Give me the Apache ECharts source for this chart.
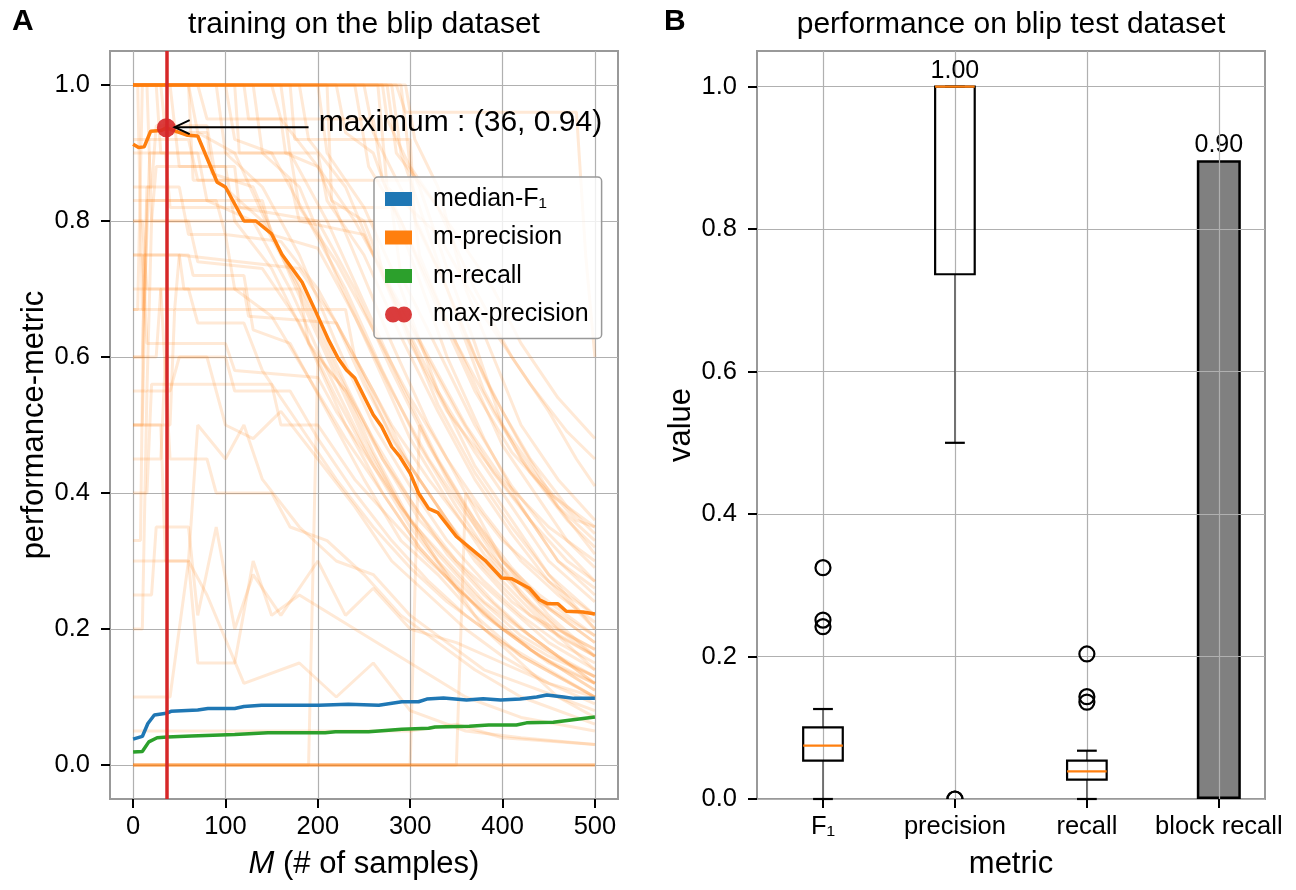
<!DOCTYPE html>
<html>
<head>
<meta charset="utf-8">
<title>blip training / test</title>
<script src="https://cdn.jsdelivr.net/npm/echarts@6/dist/echarts.min.js"></script>
<style>
    html, body { margin: 0; padding: 0; background: #fff; }
    #main { width: 1296px; height: 890px; }
</style>
</head>
<body>
<div id="main"></div>
<script>
// ---------- panel A : training curves ----------
var xTicksA = [0, 100, 200, 300, 400, 500];
var yTicks = [0, 0.2, 0.4, 0.6, 0.8, 1.0];

var medianF1 = [[0,0.038],[10,0.042],[16,0.061],[23,0.0735],[36,0.076],[41,0.079],[70,0.081],[81,0.083],[110,0.083],[120,0.086],[139,0.088],[201,0.088],[233,0.0895],[266,0.088],[291,0.093],[309,0.093],[318,0.097],[336,0.0985],[361,0.0956],[379,0.0975],[398,0.0956],[419,0.097],[437,0.100],[448,0.103],[466,0.100],[477,0.098],[500,0.098]];
var mPrecision = [[0,0.913],[6,0.908],[12,0.909],[19,0.932],[30,0.933],[36,0.937],[59,0.926],[70,0.925],[91,0.857],[100,0.85],[120,0.80],[133,0.80],[150,0.781],[161,0.751],[183,0.71],[198,0.666],[212,0.624],[222,0.598],[231,0.581],[240,0.569],[260,0.515],[269,0.498],[280,0.468],[289,0.453],[300,0.429],[309,0.40],[320,0.377],[330,0.371],[350,0.336],[381,0.301],[399,0.275],[410,0.274],[429,0.26],[440,0.243],[449,0.237],[460,0.237],[469,0.226],[487,0.225],[500,0.222]];
var mRecall = [[0,0.019],[10,0.02],[17,0.034],[26,0.040],[37,0.041],[63,0.0426],[110,0.045],[146,0.0475],[208,0.0475],[219,0.049],[255,0.049],[291,0.0525],[320,0.054],[327,0.056],[364,0.057],[385,0.0588],[415,0.0588],[426,0.062],[455,0.063],[500,0.0706]];

var maxPoint = [36, 0.937];
var maxText = 'maximum : (36, 0.94)';
var arrowTail = [190, 0.938];
var arrowHead = [45, 0.938];
var textAt = [201, 0.944];

// single runs (faint lines)
var runs = [
    [[0,1],[120,1],[125,0.95],[160,0.95],[165,0.9],[200,0.88],[240,0.8],[280,0.7],[320,0.6],[360,0.5],[400,0.42],[450,0.35],[500,0.3]],
    [[0,1],[180,1],[190,0.92],[230,0.85],[270,0.72],[300,0.62],[340,0.52],[380,0.45],[420,0.38],[460,0.3],[500,0.25]],
    [[0,1],[280,1],[290,0.9],[320,0.78],[350,0.66],[380,0.55],[420,0.45],[460,0.38],[500,0.33]],
    [[0,1],[60,1],[70,0.93],[110,0.9],[150,0.78],[190,0.68],[230,0.56],[270,0.45],[310,0.36],[350,0.3],[400,0.24],[450,0.18],[500,0.14]],
    [[0,1],[240,1],[255,0.88],[290,0.8],[330,0.67],[370,0.55],[410,0.46],[450,0.4],[500,0.35]],
    [[0,1],[90,1],[100,0.9],[140,0.85],[180,0.75],[220,0.62],[260,0.5],[300,0.41],[340,0.33],[380,0.27],[420,0.22],[460,0.18],[500,0.15]],
    [[0,1],[150,1],[160,0.95],[200,0.88],[240,0.75],[280,0.62],[320,0.5],[360,0.4],[400,0.33],[450,0.27],[500,0.22]],
    [[0,1],[270,1],[275,0.95],[310,0.85],[340,0.73],[370,0.62],[400,0.5],[440,0.42],[480,0.36],[500,0.35]],
    [[0,1],[200,1],[210,0.9],[250,0.82],[290,0.7],[330,0.55],[370,0.44],[410,0.36],[450,0.28],[500,0.2]],
    [[0,1],[30,1],[35,0.93],[80,0.93],[85,0.87],[130,0.85],[170,0.72],[210,0.6],[250,0.48],[290,0.38],[330,0.3],[380,0.23],[430,0.17],[500,0.11]],
    [[0,0.5],[10,0.5],[15,0.83],[90,0.83],[100,0.78],[160,0.77],[200,0.7],[240,0.6],[280,0.48],[320,0.4],[360,0.32],[400,0.27],[450,0.2],[500,0.16]],
    [[0,0.67],[12,0.67],[18,0.9],[70,0.9],[80,0.83],[130,0.8],[170,0.7],[210,0.58],[250,0.47],[290,0.38],[330,0.31],[370,0.25],[420,0.19],[470,0.15],[500,0.13]],
    [[0,0.33],[8,0.33],[12,0.75],[60,0.75],[65,0.72],[120,0.72],[130,0.64],[170,0.62],[210,0.52],[250,0.42],[290,0.33],[330,0.28],[370,0.22],[420,0.16],[500,0.1]],
    [[0,0.8],[20,0.8],[25,0.88],[110,0.88],[115,0.82],[200,0.8],[240,0.7],[280,0.58],[320,0.47],[360,0.38],[400,0.3],[440,0.25],[500,0.19]],
    [[0,0.6],[25,0.6],[30,0.7],[120,0.7],[125,0.66],[220,0.65],[250,0.56],[290,0.46],[330,0.38],[370,0.3],[410,0.24],[460,0.19],[500,0.16]],
    [[0,0.4],[15,0.4],[20,0.56],[150,0.56],[160,0.5],[200,0.5],[240,0.42],[280,0.36],[320,0.3],[360,0.25],[400,0.2],[450,0.16],[500,0.13]],
    [[0,1],[5,1],[10,0.67],[45,0.67],[50,0.75],[180,0.73],[220,0.65],[260,0.55],[300,0.44],[340,0.36],[380,0.29],[430,0.22],[500,0.17]],
    [[0,0.25],[20,0.25],[25,0.35],[60,0.35],[70,0.22],[90,0.35],[110,0.2],[130,0.28],[160,0.22],[200,0.3],[230,0.22],[260,0.26],[300,0.2],[350,0.18],[400,0.15],[450,0.12],[500,0.1]],
    [[0,0.5],[30,0.5],[35,0.3],[60,0.3],[70,0.5],[100,0.45],[120,0.5],[140,0.42],[180,0.35],[220,0.3],[260,0.28],[300,0.22],[340,0.18],[380,0.14],[420,0.12],[460,0.1],[500,0.08]],
    [[0,0],[500,0]],
    [[0,0],[500,0]],
    [[0,0],[500,0]],
    [[0,0],[500,0]],
    [[0,0.1],[40,0.1],[60,0.3],[80,0.25],[120,0.12],[180,0.15],[220,0.1],[260,0.15],[300,0.08],[360,0.05],[420,0.04],[500,0.03]],
    [[0,0],[190,0],[200,0.6],[230,0.55],[260,0.46],[300,0.36],[340,0.28],[380,0.2],[420,0.15],[460,0.1],[500,0.07]],
    [[0,0],[300,0],[310,0.5],[340,0.42],[380,0.33],[420,0.25],[460,0.19],[500,0.14]],
    [[0,1],[295,1],[305,0.92],[330,0.85],[360,0.7],[390,0.6],[420,0.5],[460,0.42],[500,0.36]],
    [[0,1],[290,1],[300,0.88],[340,0.8],[390,0.7],[420,0.62],[460,0.54],[500,0.48]],
    [[0,1],[285,1],[295,0.96],[480,0.96],[490,0.75],[500,0.6]],
    [[0,1],[220,1],[230,0.93],[260,0.9],[300,0.75],[340,0.6],[380,0.48],[420,0.38],[460,0.3],[500,0.26]],
    [[0,1],[130,1],[140,0.9],[180,0.85],[220,0.72],[260,0.6],[300,0.48],[340,0.39],[380,0.31],[420,0.25],[460,0.2],[500,0.17]],
    [[0,1],[40,1],[50,0.88],[100,0.88],[110,0.8],[150,0.73],[190,0.62],[230,0.5],[270,0.4],[310,0.32],[350,0.26],[400,0.2],[450,0.15],[500,0.12]],
    [[0,0.92],[60,0.92],[70,0.86],[170,0.86],[180,0.8],[250,0.78],[290,0.66],[330,0.55],[370,0.46],[410,0.38],[450,0.3],[500,0.24]],
    [[0,0.75],[10,0.75],[15,0.62],[100,0.62],[110,0.58],[200,0.57],[220,0.52],[260,0.44],[300,0.36],[340,0.3],[380,0.24],[420,0.2],[460,0.16],[500,0.13]],
    [[0,0.2],[10,0.2],[15,0.55],[40,0.55],[50,0.6],[80,0.6],[100,0.5],[130,0.48],[160,0.52],[200,0.45],[240,0.38],[280,0.3],[320,0.25],[360,0.2],[400,0.16],[450,0.12],[500,0.09]],
    [[0,0],[350,0],[360,0.4],[400,0.3],[450,0.22],[500,0.16]],
    [[0,0.05],[300,0.05],[350,0.06],[400,0.04],[500,0.03]],
    [[0,1],[100,1],[110,0.92],[150,0.9],[190,0.8],[230,0.7],[270,0.58],[310,0.47],[350,0.38],[390,0.3],[430,0.24],[470,0.19],[500,0.16]],
    [[0,1],[160,1],[170,0.9],[210,0.8],[250,0.68],[290,0.56],[330,0.45],[370,0.36],[410,0.29],[450,0.23],[500,0.18]],
    [[0,1],[250,1],[260,0.93],[300,0.82],[340,0.7],[380,0.57],[420,0.47],[460,0.38],[500,0.31]],
    [[0,0.85],[20,0.85],[25,0.94],[80,0.94],[90,0.86],[140,0.8],[180,0.7],[220,0.58],[260,0.48],[300,0.39],[340,0.31],[380,0.25],[420,0.2],[460,0.16],[500,0.12]],
    [[0,0.55],[15,0.55],[20,0.8],[60,0.8],[70,0.74],[140,0.73],[180,0.65],[220,0.54],[260,0.44],[300,0.35],[340,0.28],[380,0.22],[430,0.17],[500,0.11]],
    [[0,1],[210,1],[215,0.83],[250,0.8],[290,0.66],[330,0.53],[370,0.43],[410,0.35],[450,0.28],[500,0.22]],
    [[0,1],[70,1],[80,0.95],[260,0.95],[270,0.86],[310,0.74],[350,0.62],[390,0.52],[430,0.43],[470,0.36],[500,0.32]],
    [[0,0.7],[30,0.7],[40,0.45],[80,0.45],[90,0.4],[150,0.4],[170,0.35],[210,0.33],[250,0.28],[290,0.22],[330,0.18],[370,0.14],[420,0.1],[500,0.06]],
    [[0,0.83],[140,0.83],[150,0.78],[200,0.76],[240,0.66],[280,0.55],[320,0.45],[360,0.37],[400,0.3],[440,0.24],[500,0.18]],
    [[0,1],[15,1],[20,0.8],[260,0.8],[270,0.72],[310,0.62],[350,0.52],[390,0.43],[430,0.36],[470,0.3],[500,0.27]],
    [[0,0.67],[5,0.67],[10,1],[110,1],[115,0.9],[170,0.9],[180,0.82],[220,0.74],[260,0.64],[300,0.54],[340,0.45],[380,0.37],[420,0.3],[460,0.25],[500,0.21]],
    [[0,0.5],[40,0.5],[45,0.67],[230,0.67],[240,0.6],[280,0.5],[320,0.42],[360,0.35],[400,0.29],[440,0.24],[500,0.19]],
    [[0,1],[275,1],[285,0.9],[330,0.82],[370,0.7],[410,0.6],[450,0.52],[480,0.45],[500,0.41]],
    [[0,1],[60,1],[65,0.86],[300,0.86],[310,0.75],[340,0.65],[370,0.56],[400,0.47],[440,0.39],[470,0.33],[500,0.29]],
    [[0,0.75],[50,0.75],[55,0.7],[180,0.7],[190,0.62],[230,0.55],[270,0.45],[310,0.37],[350,0.3],[390,0.24],[430,0.19],[470,0.15],[500,0.12]],
    [[0,1],[25,1],[30,0.9],[200,0.9],[210,0.83],[250,0.75],[290,0.63],[330,0.52],[370,0.42],[410,0.34],[450,0.27],[500,0.2]],
    [[0,0.6],[10,0.6],[15,0.85],[50,0.85],[60,0.78],[100,0.78],[110,0.7],[150,0.66],[190,0.57],[230,0.48],[270,0.4],[310,0.32],[350,0.26],[390,0.21],[440,0.16],[500,0.12]],
    [[0,0.9],[35,0.9],[40,0.82],[280,0.82],[290,0.72],[330,0.61],[370,0.5],[410,0.41],[450,0.34],[500,0.27]],
    [[0,1],[265,1],[275,0.85],[330,0.78],[380,0.66],[430,0.56],[470,0.49],[500,0.45]],
    [[0,0.45],[30,0.45],[35,0.6],[100,0.6],[110,0.55],[170,0.55],[200,0.48],[240,0.4],[280,0.33],[320,0.27],[360,0.22],[400,0.18],[450,0.14],[500,0.1]],
    [[0,1],[170,1],[175,0.92],[300,0.92],[305,0.8],[340,0.7],[370,0.6],[400,0.52],[430,0.45],[470,0.38],[500,0.34]],
    [[0,0.3],[60,0.3],[70,0.15],[110,0.15],[130,0.3],[150,0.22],[180,0.25],[240,0.2],[300,0.15],[360,0.1],[420,0.07],[500,0.05]],
    [[0,0.8],[10,0.8],[15,0.7],[60,0.7],[70,0.65],[120,0.65],[140,0.58],[180,0.5],[220,0.42],[260,0.35],[300,0.29],[340,0.24],[380,0.2],[420,0.16],[460,0.13],[500,0.1]]
];

// ---------- panel B : test set ----------
var metrics = ['F\u2081', 'precision', 'recall', 'block recall'];
var metricPos = [1, 2, 3, 4];
var boxLow = [0, 0.5, 0];
var boxQ1 = [0.0538, 0.7366, 0.0271];
var boxMedian = [0.0749, 1.0, 0.0388];
var boxQ3 = [0.1006, 1.0, 0.0538];
var boxHigh = [0.1263, 1.0, 0.0678];
var boxText = ['', '1.00', ''];
var fliers = [[1,0.3247],[1,0.2512],[1,0.2419],[2,0],[2,0],[3,0.2036],[3,0.1436],[3,0.136]];
var blockRecall = 0.8965;

(function () {
    var FONT = 'Liberation Sans';
    var ORANGE = '#ff7f0e';

    var page = {
        init() {
            this.chart = echarts.init(document.getElementById('main'), null, { renderer: 'canvas' });
            this.chart.setOption({
                animation: false,
                textStyle: { fontFamily: FONT, color: '#000' },
                graphic: this.texts(),
                legend: this.legend(),
                grid: [
                    { left: 110, top: 51, width: 508, height: 748, show: true, borderColor: '#999', borderWidth: 2 },
                    { left: 757, top: 51, width: 508, height: 748, show: true, borderColor: '#999', borderWidth: 2 }
                ],
                xAxis: [
                    this.axis(0, -25, 525, xTicksA, 15, function (v) { return String(v); }, {
                        name: '{i|M} (# of samples)', nameGap: 50
                    }),
                    this.axis(1, 0.5, 4.35, metricPos, 15, function (v) { return metrics[v - 1]; }, {
                        name: 'metric', nameGap: 50, z: 3
                    })
                ],
                yAxis: [
                    this.axis(0, -0.05, 1.05, yTicks, 20, function (v) { return v.toFixed(1); }, {
                        name: 'performance-metric', nameGap: 60
                    }),
                    this.axis(1, 0, 1.05, yTicks, 20, function (v) { return v.toFixed(1); }, {
                        name: 'value', nameGap: 60, z: 3
                    })
                ],
                series: this.seriesA().concat(this.seriesB())
            });
        },
        axis(idx, min, max, ticks, margin, fmt, extra) {  //shared axis look
            var ax = {
                gridIndex: idx, type: 'value', min: min, max: max,
                nameLocation: 'middle',
                axisLine: { show: false, onZero: false },
                axisTick: { show: true, length: 9, lineStyle: { color: '#000', width: 2 }, customValues: ticks },
                axisLabel: { fontSize: 25.5, color: '#000', margin: margin, customValues: ticks, formatter: fmt },
                splitLine: { show: true, lineStyle: { color: '#b0b0b0', width: 1.2 } },
                nameTextStyle: { fontSize: 31, color: '#000', rich: { i: { fontSize: 31, fontStyle: 'italic' } } }
            };
            for (var k in extra) ax[k] = extra[k];
            return ax;
        },
        texts() {
            var t = function (str, x, y, size, weight, align) {
                return {
                    type: 'text', x: x, y: y, z: 10,
                    style: { text: str, fill: '#000', font: weight + ' ' + size + 'px "' + FONT + '"', align: align, verticalAlign: 'middle' }
                };
            };
            return [
                t('A', 12, 22, 30, 'bold', 'left'),
                t('B', 664, 22, 30, 'bold', 'left'),
                t('training on the blip dataset', 364, 25, 30, 'normal', 'center'),
                t('performance on blip test dataset', 1011, 25, 30, 'normal', 'center')
            ];
        },
        legend() {
            var rectIcon = 'path://M0,0H27V14H0Z';
            var dotsIcon = 'path://M8,0A8,8,0,1,0,8,16A8,8,0,1,0,8,0ZM19,0A8,8,0,1,0,19,16A8,8,0,1,0,19,0Z';
            return {
                orient: 'vertical', left: 374, top: 177,
                itemWidth: 27, itemHeight: 16, itemGap: 13.5,
                padding: [9.5, 13, 11.5, 11],
                backgroundColor: 'rgba(255,255,255,0.8)', borderColor: '#999', borderWidth: 1.5, borderRadius: 4,
                selectedMode: false,
                textStyle: { fontSize: 25, color: '#000', padding: [0, 0, 0, 16] },
                data: [
                    { name: 'median-F\u2081', icon: rectIcon },
                    { name: 'm-precision', icon: rectIcon },
                    { name: 'm-recall', icon: rectIcon },
                    { name: 'max-precision', icon: dotsIcon }
                ]
            };
        },
        seriesA() {
            var list = runs.map(function (r, i) {
                return {
                    name: 'run ' + i, type: 'line', xAxisIndex: 0, yAxisIndex: 0, data: r,
                    symbol: 'none', silent: true, z: 1,
                    lineStyle: { color: ORANGE, width: 3, opacity: 0.17 }
                };
            });
            var main = function (name, data, color) {
                return {
                    name: name, type: 'line', xAxisIndex: 0, yAxisIndex: 0, data: data,
                    symbol: 'none', z: 3, color: color, lineStyle: { color: color, width: 3.5 }
                };
            };
            list.push(main('median-F\u2081', medianF1, '#1f77b4'));
            list.push(main('m-precision', mPrecision, ORANGE));
            list.push(main('m-recall', mRecall, '#2ca02c'));
            list.push({
                name: 'max-precision', type: 'scatter', xAxisIndex: 0, yAxisIndex: 0, data: [maxPoint],
                symbolSize: 19, z: 5, color: '#d62728', itemStyle: { color: '#d62728', opacity: 0.9 },
                markLine: {
                    silent: true, symbol: 'none', animation: false, z: 4,
                    label: { show: false },
                    lineStyle: { color: '#d62728', width: 3.5, type: 'solid' },
                    data: [{ xAxis: maxPoint[0] }]
                }
            });
            list.push({   //annotation arrow + text
                name: 'annot', type: 'custom', xAxisIndex: 0, yAxisIndex: 0, z: 6, silent: true,
                data: [arrowTail.concat(arrowHead).concat(textAt)],
                encode: { x: [0, 2], y: [1, 3] },
                renderItem: function (params, api) {
                    var a = api.coord([api.value(0), api.value(1)]);
                    var b = api.coord([api.value(2), api.value(3)]);
                    var c = api.coord([api.value(4), api.value(5)]);
                    var st = { stroke: '#000', lineWidth: 2, fill: null };
                    return {
                        type: 'group', children: [
                            { type: 'line', shape: { x1: a[0], y1: a[1], x2: b[0], y2: b[1] }, style: st },
                            { type: 'polyline', shape: { points: [[b[0] + 15, b[1] - 7], b, [b[0] + 15, b[1] + 7]] }, style: st },
                            { type: 'text', x: c[0], y: c[1], style: { text: maxText, fill: '#000', font: '30px "' + FONT + '"', align: 'left', verticalAlign: 'middle' } }
                        ]
                    };
                }
            });
            return list;
        },
        seriesB() {
            var boxData = boxLow.map(function (v, i) {
                return [metricPos[i], boxLow[i], boxQ1[i], boxMedian[i], boxQ3[i], boxHigh[i]];
            });
            return [
                {
                    name: 'block recall', type: 'bar', xAxisIndex: 1, yAxisIndex: 1, z: 2,
                    data: [[metricPos[3], blockRecall]], barWidth: 44,
                    itemStyle: { color: '#808080', borderColor: '#000', borderWidth: 2.5 },
                    label: { show: true, position: 'top', distance: 3, fontSize: 25, color: '#000',
                        formatter: function (p) { return p.value[1].toFixed(2); } }
                },
                {
                    name: 'boxes', type: 'custom', xAxisIndex: 1, yAxisIndex: 1, z: 5,
                    data: boxData, encode: { x: 0, y: [1, 2, 3, 4, 5] },
                    renderItem: function (params, api) {
                        var i = params.dataIndex;
                        var x = api.value(0);
                        var half = api.size([0.3, 0])[0] / 2;
                        var cap = half / 2;
                        var lo = api.coord([x, api.value(1)]);
                        var q1 = api.coord([x, api.value(2)]);
                        var md = api.coord([x, api.value(3)]);
                        var q3 = api.coord([x, api.value(4)]);
                        var hi = api.coord([x, api.value(5)]);
                        var cx = lo[0];
                        var whisk = { stroke: '#555', lineWidth: 1.5 };
                        var blk = { stroke: '#000', lineWidth: 2.2, fill: null };
                        var kids = [
                            { type: 'line', shape: { x1: cx, y1: lo[1], x2: cx, y2: q1[1] }, style: whisk },
                            { type: 'line', shape: { x1: cx, y1: q3[1], x2: cx, y2: hi[1] }, style: whisk },
                            { type: 'line', shape: { x1: cx - cap, y1: lo[1], x2: cx + cap, y2: lo[1] }, style: blk },
                            { type: 'line', shape: { x1: cx - cap, y1: hi[1], x2: cx + cap, y2: hi[1] }, style: blk },
                            { type: 'rect', shape: { x: cx - half, y: q3[1], width: half * 2, height: q1[1] - q3[1] }, style: blk },
                            { type: 'line', shape: { x1: cx - half, y1: md[1], x2: cx + half, y2: md[1] }, style: { stroke: ORANGE, lineWidth: 2.2 } }
                        ];
                        if (boxText[i]) {
                            kids.push({ type: 'text', x: cx, y: hi[1] - 3, style: { text: boxText[i], fill: '#000', font: '25px "' + FONT + '"', align: 'center', verticalAlign: 'bottom' } });
                        }
                        return { type: 'group', children: kids };
                    }
                },
                {
                    name: 'fliers', type: 'custom', xAxisIndex: 1, yAxisIndex: 1, z: 5, clip: true,
                    data: fliers, encode: { x: 0, y: 1 },
                    renderItem: function (params, api) {
                        var p = api.coord([api.value(0), api.value(1)]);
                        return { type: 'circle', shape: { cx: p[0], cy: p[1], r: 7.5 }, style: { fill: null, stroke: '#000', lineWidth: 2.2 } };
                    }
                }
            ];
        }
    };

    page.init();
})();
</script>
</body>
</html>
